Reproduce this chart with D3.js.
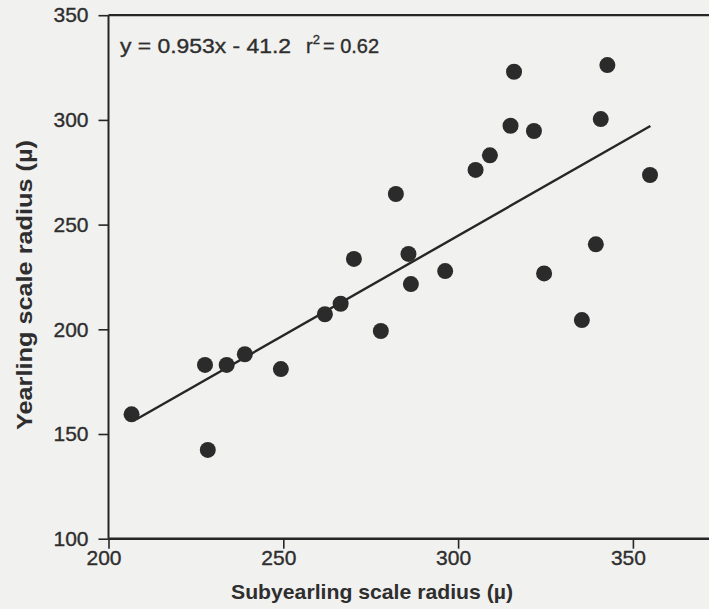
<!DOCTYPE html>
<html><head><meta charset="utf-8">
<script src="https://cdn.jsdelivr.net/npm/d3@7"></script>
<style>
body{margin:0;background:#f1f1ef;}
svg{display:block;}
text{font-family:"Liberation Sans",Arial,sans-serif;fill:#2e2e2e;}
.heavy{stroke:#2e2e2e;stroke-width:0.35px;}
</style></head>
<body>
<script>
const subyearling = [206.6,227.6,233.8,239.0,249.3,228.4,282.2,270.2,285.8,296.3,286.5,266.4,261.9,277.9,316.0,342.7,315.0,321.7,340.8,309.1,305.0,354.9,339.4,324.6,335.4];
const yearling    = [159.4,183.0,183.0,188.1,181.0,142.4,264.6,233.6,236.0,227.8,221.6,212.2,207.2,199.2,323.0,326.2,297.2,294.7,300.4,283.1,276.1,273.7,240.6,226.7,204.4];
const xTicks = [200,250,300,350];
const yTicks = [100,150,200,250,300,350];
const slope = 0.953, intercept = -41.2, lineRange = [208,355];
const equationText = "y = 0.953x - 41.2";
const rText = "= 0.62";

const W=709,H=609;
const svg=d3.select("body").append("svg").attr("width",W).attr("height",H);
svg.append("rect").attr("width",W).attr("height",H).attr("fill","#f1f1ef");

const x=d3.scaleLinear().domain([200,400]).range([108.5,807.7]);
const y=d3.scaleLinear().domain([100,350]).range([538.7,15.2]);
const ink="#262626";

svg.append("line").attr("x1",x(200)).attr("x2",W+5).attr("y1",y(350)).attr("y2",y(350))
  .attr("stroke",ink).attr("stroke-width",2.2);

const xAxis=svg.append("g").attr("transform",`translate(0,${y(100)})`)
  .call(d3.axisBottom(x).tickValues(xTicks).tickSize(10).tickPadding(1).tickFormat(d3.format("d")));
const yAxis=svg.append("g").attr("transform",`translate(${x(200)},0)`)
  .call(d3.axisLeft(y).tickValues(yTicks).tickSize(10).tickPadding(10).tickFormat(d3.format("d")));
[xAxis,yAxis].forEach(g=>{
  g.select(".domain").remove();
  g.selectAll(".tick line").attr("stroke",ink).attr("stroke-width",1.6);
  g.selectAll(".tick text").style("font-size","21px").attr("fill","#2e2e2e").classed("heavy",true);
});
xAxis.selectAll(".tick text").attr("dx",-5);
svg.append("line").attr("x1",x(200)).attr("x2",W+5).attr("y1",y(100)).attr("y2",y(100))
  .attr("stroke",ink).attr("stroke-width",2.4);
svg.append("line").attr("x1",x(200)).attr("x2",x(200)).attr("y1",y(350)).attr("y2",y(100))
  .attr("stroke",ink).attr("stroke-width",2);

svg.append("line")
  .attr("x1",x(lineRange[0])).attr("y1",y(slope*lineRange[0]+intercept))
  .attr("x2",x(lineRange[1])).attr("y2",y(slope*lineRange[1]+intercept))
  .attr("stroke",ink).attr("stroke-width",2.4);

svg.append("g").selectAll("circle").data(subyearling.map((v,i)=>[v,yearling[i]])).join("circle")
  .attr("cx",d=>x(d[0])).attr("cy",d=>y(d[1])).attr("r",8).attr("fill","#2b2b2b");

svg.append("text").attr("x",120).attr("y",53).style("font-size","20px").classed("heavy",true)
  .attr("textLength",171).attr("lengthAdjust","spacingAndGlyphs").text(equationText);
const r=svg.append("text").attr("x",306).attr("y",53).style("font-size","20px").classed("heavy",true);
r.append("tspan").text("r");
r.append("tspan").attr("dy",-9).style("font-size","13px").text("2");
r.append("tspan").attr("dy",9).attr("dx",3).text(rText);

svg.append("text").attr("x",372).attr("y",599).attr("text-anchor","middle")
  .attr("textLength",282).attr("lengthAdjust","spacingAndGlyphs")
  .style("font-size","21px").style("font-weight","bold").text("Subyearling scale radius (µ)");
svg.append("text").attr("transform","translate(32,285) rotate(-90)").attr("text-anchor","middle")
  .attr("textLength",290).attr("lengthAdjust","spacingAndGlyphs")
  .style("font-size","22px").style("font-weight","bold").text("Yearling scale radius (µ)");
</script>
</body></html>
